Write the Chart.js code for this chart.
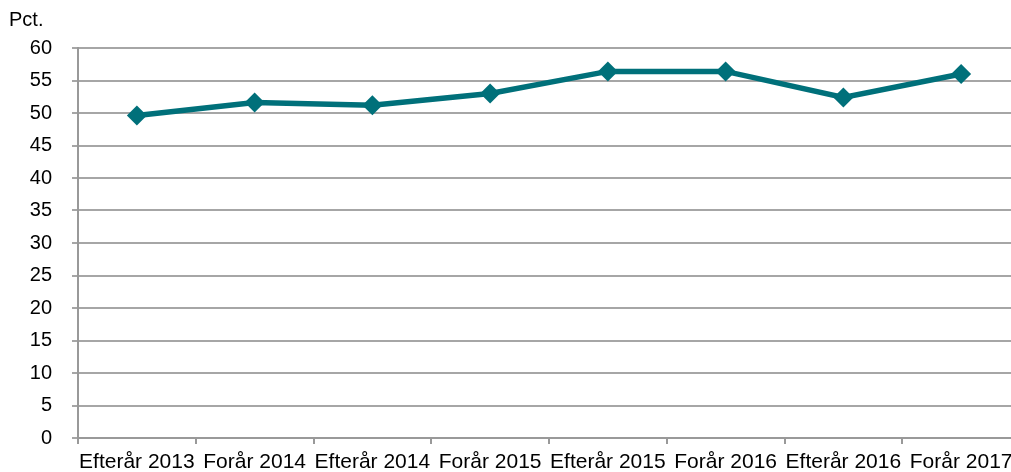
<!DOCTYPE html>
<html>
<head>
<meta charset="utf-8">
<script src="https://cdn.jsdelivr.net/npm/chart.js@4"></script>
<style>
  html, body { margin: 0; padding: 0; background: #fff; overflow: hidden; }
  #wrap { position: relative; width: 1030px; height: 472px; }
</style>
</head>
<body>
<div id="wrap"><canvas id="chartPct"></canvas></div>
<script>
// --- data ---
const perioder = ['Efterår 2013', 'Forår 2014', 'Efterår 2014', 'Forår 2015',
                  'Efterår 2015', 'Forår 2016', 'Efterår 2016', 'Forår 2017'];
const andel = [49.6, 51.6, 51.2, 53.0, 56.4, 56.4, 52.4, 56.0];
const yMin = 0, yMax = 60, yStep = 5;
const enhed = 'Pct.';

const skrift = { family: '"Liberation Sans", Arial, sans-serif', size: 20 };
const skriftX = { family: '"Liberation Sans", Arial, sans-serif', size: 21 };

// enhed ("Pct.") over y-aksen
const enhedLabel = {
    id: 'enhedLabel',
    afterDraw(chart) {
        const c = chart.ctx;
        c.save();
        c.font = '20px "Liberation Sans", Arial, sans-serif';
        c.fillStyle = '#000';
        c.textBaseline = 'middle';
        c.textAlign = 'left';
        c.fillText(enhed, 9, 20);
        c.restore();
    }
};

const ctx = document.getElementById('chartPct').getContext('2d');

new Chart(ctx, {
    type: 'line',
    data: {
        labels: perioder,
        datasets: [{
            data: andel,
            borderColor: '#00707a',
            backgroundColor: '#00707a',
            borderWidth: 5.5,
            pointStyle: 'rectRot',
            pointRadius: 10,
            pointHoverRadius: 10,
            pointBorderWidth: 0,
            tension: 0
        }]
    },
    plugins: [enhedLabel],
    options: {
        responsive: true,
        maintainAspectRatio: false,
        animation: false,
        plugins: {
            legend: { display: false },
            tooltip: { enabled: false }
        },
        layout: { padding: { top: 48, right: 10, left: 0, bottom: 0 } },
        scales: {
            x: {
                offset: true,
                afterFit(scale) { scale.height = 34; },
                grid: {
                    offset: true,
                    drawOnChartArea: false,
                    drawTicks: true,
                    tickLength: 6,
                    color: '#999',
                    lineWidth: 2
                },
                border: { color: '#999', width: 2 },
                ticks: { color: '#000', font: skriftX, maxRotation: 0, minRotation: 0, autoSkip: false, padding: 6 }
            },
            y: {
                min: yMin,
                max: yMax,
                afterFit(scale) { scale.width = 78; },
                ticks: { color: '#000', font: skrift, stepSize: yStep, padding: 20 },
                grid: { color: '#a6a6a6', lineWidth: 2, tickLength: 6 },
                border: { color: '#999', width: 2 }
            }
        }
    }
});
</script>
</body>
</html>
